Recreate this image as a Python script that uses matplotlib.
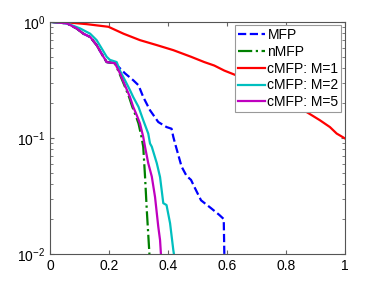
import numpy as np
import matplotlib
matplotlib.use("Agg")
import matplotlib.pyplot as plt

plt.rcParams["font.family"] = ["Liberation Sans", "DejaVu Sans"]
plt.rcParams["font.size"] = 10
plt.rcParams["mathtext.fontset"] = "custom"
plt.rcParams["mathtext.rm"] = "Liberation Sans"

# values
mfp_x = [0.0, 0.057, 0.09, 0.113, 0.136, 0.158, 0.175, 0.192, 0.22, 0.232, 0.254,
         0.282, 0.30, 0.316, 0.339, 0.367, 0.395, 0.412, 0.418, 0.424, 0.446,
         0.463, 0.478, 0.489, 0.512, 0.546, 0.574, 0.589, 0.591]
mfp_y = [1.0, 0.97, 0.877, 0.79, 0.74, 0.63, 0.53, 0.45, 0.44, 0.41, 0.36,
         0.314, 0.284, 0.225, 0.173, 0.137, 0.124, 0.12, 0.102, 0.0895, 0.0566,
         0.047, 0.0435, 0.038, 0.029, 0.0248, 0.0217, 0.02, 0.01]

nmfp_x = [0.0, 0.057, 0.09, 0.113, 0.136, 0.158, 0.175, 0.192, 0.22, 0.235,
          0.252, 0.268, 0.279, 0.29, 0.30, 0.31, 0.316, 0.322, 0.328, 0.337]
nmfp_y = [1.0, 0.97, 0.877, 0.79, 0.74, 0.63, 0.53, 0.45, 0.44, 0.36,
          0.284, 0.225, 0.185, 0.157, 0.133, 0.102, 0.084, 0.047, 0.024, 0.01]

m1_x = [0.0, 0.057, 0.124, 0.198, 0.249, 0.305, 0.362, 0.418, 0.478, 0.523,
        0.557, 0.591, 0.70, 0.80, 0.915, 0.949, 0.972, 1.0]
m1_y = [1.0, 0.99, 0.955, 0.906, 0.79, 0.695, 0.63, 0.57, 0.50, 0.45,
        0.42, 0.38, 0.295, 0.215, 0.142, 0.124, 0.109, 0.099]

m2_x = [0.0, 0.057, 0.102, 0.136, 0.158, 0.175, 0.192, 0.203, 0.226, 0.237,
        0.254, 0.271, 0.282, 0.30, 0.316, 0.333, 0.339, 0.345, 0.362, 0.373,
        0.384, 0.395, 0.407, 0.418, 0.42]
m2_y = [1.0, 0.97, 0.877, 0.79, 0.695, 0.59, 0.50, 0.47, 0.45, 0.38,
        0.314, 0.258, 0.225, 0.185, 0.142, 0.109, 0.0895, 0.084, 0.0605, 0.046,
        0.0274, 0.0264, 0.0184, 0.0108, 0.01]

m5_x = [0.0, 0.057, 0.09, 0.113, 0.136, 0.158, 0.175, 0.192, 0.22, 0.237,
        0.254, 0.271, 0.282, 0.294, 0.305, 0.316, 0.322, 0.333, 0.345, 0.356,
        0.367, 0.373, 0.376]
m5_y = [1.0, 0.97, 0.877, 0.79, 0.74, 0.63, 0.53, 0.45, 0.44, 0.36,
        0.284, 0.225, 0.185, 0.157, 0.133, 0.102, 0.084, 0.0605, 0.0465, 0.031,
        0.0172, 0.0132, 0.01]

fig = plt.figure(figsize=(3.82, 2.87), dpi=100)
ax = fig.add_axes([0.131, 0.115, 0.772, 0.809])

ax.semilogy(mfp_x, mfp_y, "--", color="#0000ff", lw=1.6, label="MFP")
ax.semilogy(nmfp_x, nmfp_y, "-.", color="#008000", lw=1.6, label="nMFP")
ax.semilogy(m1_x, m1_y, "-", color="#ff0000", lw=1.6, label="cMFP: M=1")
ax.semilogy(m2_x, m2_y, "-", color="#00bfbf", lw=1.6, label="cMFP: M=2")
ax.semilogy(m5_x, m5_y, "-", color="#bf00bf", lw=1.6, label="cMFP: M=5")

ax.set_xlim(0, 1)
ax.set_ylim(0.01, 1)
ax.set_xticks([0, 0.2, 0.4, 0.6, 0.8, 1])
ax.set_xticklabels(["0", "0.2", "0.4", "0.6", "0.8", "1"])
ax.set_yticks([0.01, 0.1, 1])
ax.set_yticklabels([r"$10^{-2}$", r"$10^{-1}$", r"$10^{0}$"])
ax.tick_params(which="both", direction="in", top=True, right=True,
               color="#666666", labelsize=10)
ax.tick_params(which="major", length=3)
ax.tick_params(which="minor", length=2)
for s in ax.spines.values():
    s.set_color("#555555")

leg = ax.legend(loc="upper right", bbox_to_anchor=(1, 1), borderaxespad=0.25,
                fancybox=False, edgecolor="#999999", framealpha=1,
                handlelength=2.0, handletextpad=0.15, labelspacing=0.2,
                borderpad=0.2, fontsize=10)
leg.get_frame().set_linewidth(0.8)

fig.savefig("out.png", dpi=100)
